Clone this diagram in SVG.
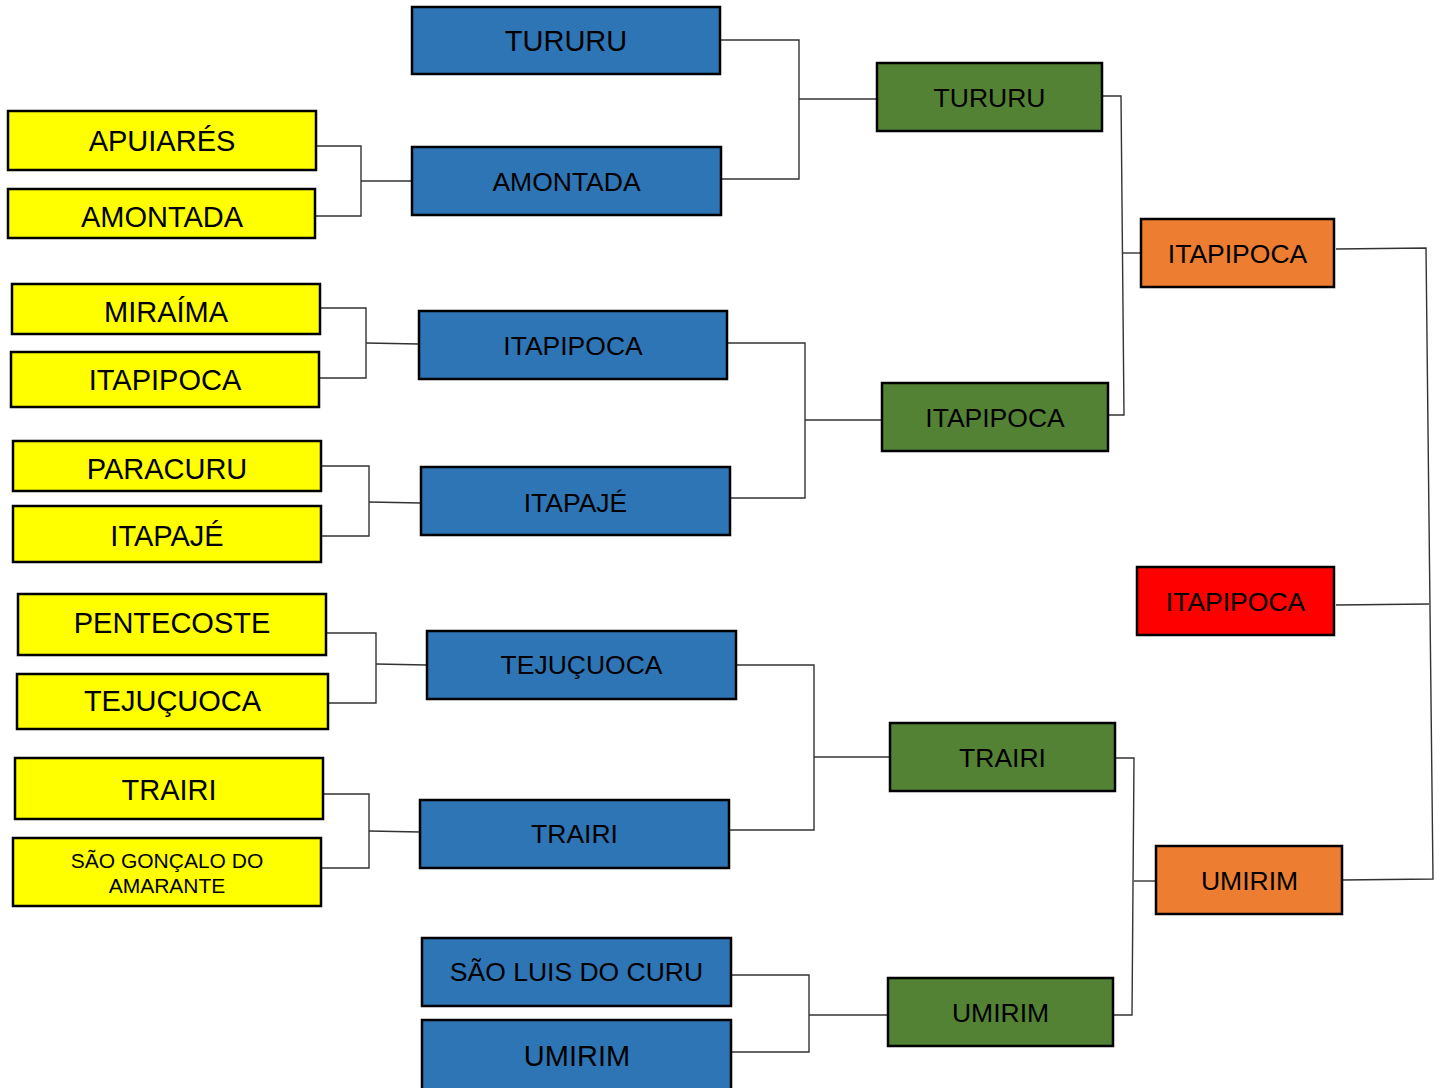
<svg xmlns="http://www.w3.org/2000/svg" width="1442" height="1088" viewBox="0 0 1442 1088">
<style>
.b{stroke:#000;stroke-width:2.5}
.y{fill:#FFFF00}.bl{fill:#2E75B6}.g{fill:#548235}.o{fill:#ED7D31}.r{fill:#FF0000}
text{font-family:"Liberation Sans",Arial,sans-serif;fill:#000;text-anchor:middle}
.t29{font-size:29px}.t26{font-size:26.5px}.t21{font-size:21px}
.c{fill:none;stroke:#333;stroke-width:1.4}
</style>
<rect width="1442" height="1088" fill="#fff"/>
<g id="connectors">
<polyline class="c" points="316,146 361,146 361,216 316,216"/>
<line class="c" x1="361" y1="181" x2="412" y2="181"/>
<polyline class="c" points="320,308 366,308 366,378 319,378"/>
<line class="c" x1="366" y1="343" x2="419" y2="344"/>
<polyline class="c" points="321,466 369,466 369,536 321,536"/>
<line class="c" x1="369" y1="502" x2="421" y2="503"/>
<polyline class="c" points="326,633 376,633 376,703 328,703"/>
<line class="c" x1="376" y1="664" x2="427" y2="665"/>
<polyline class="c" points="323,794 369,794 369,868 321,868"/>
<line class="c" x1="369" y1="831" x2="420" y2="832"/>
<polyline class="c" points="720,40 799,40 799,179 721,179"/>
<line class="c" x1="799" y1="99" x2="877" y2="99"/>
<polyline class="c" points="727,343 805,343 805,498 730,498"/>
<line class="c" x1="805" y1="420" x2="882" y2="420"/>
<polyline class="c" points="736,665 814,665 814,830 729,830"/>
<line class="c" x1="814" y1="757" x2="890" y2="757"/>
<polyline class="c" points="731,975 809,975 809,1052 731,1052"/>
<line class="c" x1="809" y1="1015" x2="888" y2="1015"/>
<polyline class="c" points="1102,96 1121,96 1124,415 1108,415"/>
<line class="c" x1="1123" y1="253" x2="1141" y2="253"/>
<polyline class="c" points="1115,758 1134,758 1132,1015 1113,1015"/>
<line class="c" x1="1134" y1="881" x2="1156" y2="881"/>
<polyline class="c" points="1336,249 1426,248 1433,879 1342,880"/>
<line class="c" x1="1336" y1="605" x2="1429" y2="604"/>
</g>
<g id="y1"><rect class="b y" x="8" y="111" width="308" height="59"/><text class="t29" x="162" y="151">APUIARÉS</text></g>
<g id="y2"><rect class="b y" x="8" y="189" width="307" height="49"/><text class="t29" x="162" y="227">AMONTADA</text></g>
<g id="y3"><rect class="b y" x="12" y="284" width="308" height="50"/><text class="t29" x="166" y="322">MIRAÍMA</text></g>
<g id="y4"><rect class="b y" x="11" y="352" width="308" height="55"/><text class="t29" x="165" y="390">ITAPIPOCA</text></g>
<g id="y5"><rect class="b y" x="13" y="441" width="308" height="50"/><text class="t29" x="167" y="478.5">PARACURU</text></g>
<g id="y6"><rect class="b y" x="13" y="506" width="308" height="56"/><text class="t29" x="167" y="546">ITAPAJÉ</text></g>
<g id="y7"><rect class="b y" x="18" y="594" width="308" height="61"/><text class="t29" x="172" y="632.5">PENTECOSTE</text></g>
<g id="y8"><rect class="b y" x="17" y="674" width="311" height="55"/><text class="t29" x="172.5" y="711">TEJUÇUOCA</text></g>
<g id="y9"><rect class="b y" x="15" y="758" width="308" height="61"/><text class="t29" x="169" y="799.5">TRAIRI</text></g>
<g id="y10"><rect class="b y" x="13" y="838" width="308" height="68"/><text class="t21" x="167" y="868">SÃO GONÇALO DO</text><text class="t21" x="167" y="893">AMARANTE</text></g>
<g id="b1"><rect class="b bl" x="412" y="7" width="308" height="67"/><text class="t29" x="566" y="50.5">TURURU</text></g>
<g id="b2"><rect class="b bl" x="412" y="147" width="309" height="68"/><text class="t26" x="566.5" y="190.5">AMONTADA</text></g>
<g id="b3"><rect class="b bl" x="419" y="311" width="308" height="68"/><text class="t26" x="573" y="354.5">ITAPIPOCA</text></g>
<g id="b4"><rect class="b bl" x="421" y="467" width="309" height="68"/><text class="t26" x="575.5" y="512">ITAPAJÉ</text></g>
<g id="b5"><rect class="b bl" x="427" y="631" width="309" height="68"/><text class="t26" x="581.5" y="674">TEJUÇUOCA</text></g>
<g id="b6"><rect class="b bl" x="420" y="800" width="309" height="68"/><text class="t26" x="574.5" y="842.5">TRAIRI</text></g>
<g id="b7"><rect class="b bl" x="422" y="938" width="309" height="68"/><text class="t26" x="576.5" y="980.5">SÃO LUIS DO CURU</text></g>
<g id="b8"><rect class="b bl" x="422" y="1020" width="309" height="70"/><text class="t29" x="577" y="1065.5">UMIRIM</text></g>
<g id="g1"><rect class="b g" x="877" y="63" width="225" height="68"/><text class="t26" x="989.5" y="106.5">TURURU</text></g>
<g id="g2"><rect class="b g" x="882" y="383" width="226" height="68"/><text class="t26" x="995" y="426.5">ITAPIPOCA</text></g>
<g id="g3"><rect class="b g" x="890" y="723" width="225" height="68"/><text class="t26" x="1002.5" y="766.5">TRAIRI</text></g>
<g id="g4"><rect class="b g" x="888" y="978" width="225" height="68"/><text class="t26" x="1000.5" y="1022">UMIRIM</text></g>
<g id="o1"><rect class="b o" x="1141" y="219" width="193" height="68"/><text class="t26" x="1237.5" y="263">ITAPIPOCA</text></g>
<g id="r1"><rect class="b r" x="1137" y="567" width="197" height="68"/><text class="t26" x="1235.5" y="611">ITAPIPOCA</text></g>
<g id="o2"><rect class="b o" x="1156" y="846" width="186" height="68"/><text class="t26" x="1249.5" y="890">UMIRIM</text></g>
</svg>
